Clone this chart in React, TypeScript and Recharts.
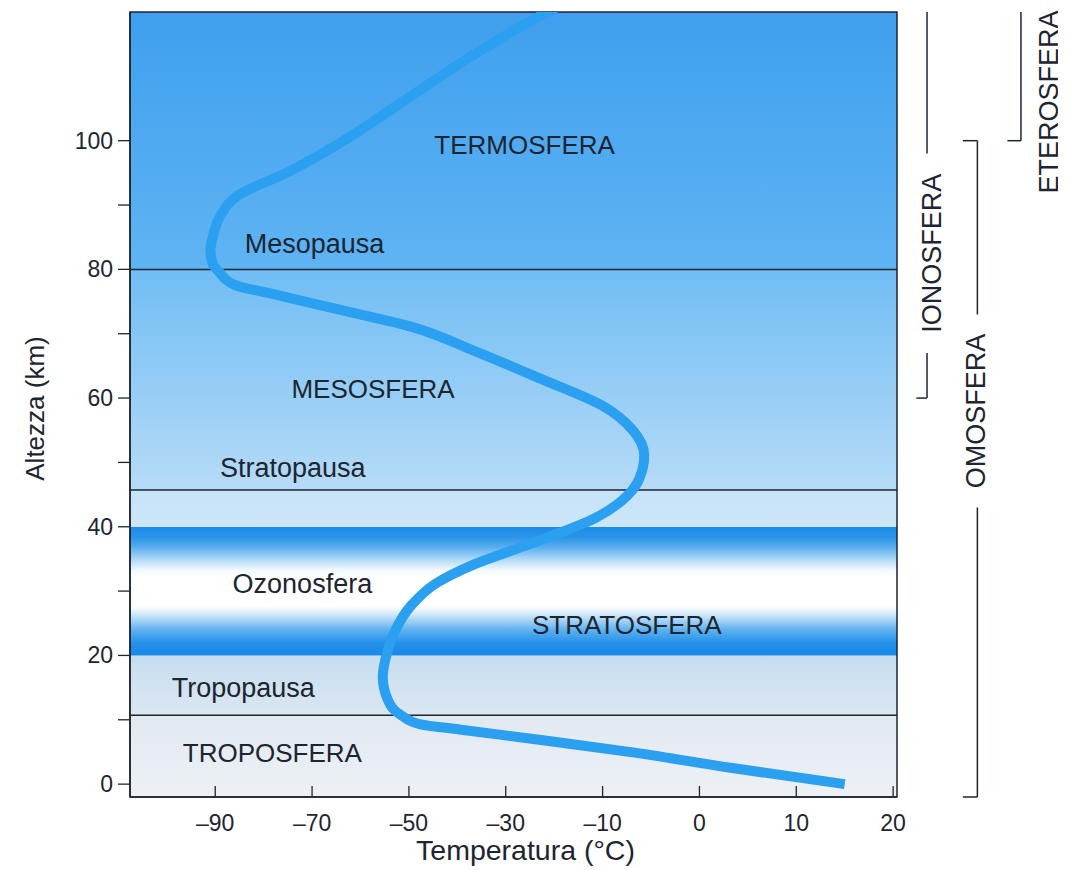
import React from "react";
import {
  ComposedChart,
  Line,
  XAxis,
  YAxis,
  ReferenceArea,
  ReferenceLine,
  ReferenceDot,
} from "recharts";

// temperature profile (altitude km -> °C)
const altitudeKm = [
  0, 2.5, 4.9, 6.9, 8.5, 9.3, 10.7, 13.2, 16.6, 20.2, 23.6, 27.7, 31.2, 34.2, 37.3, 41.4,
  44.9, 47.5, 51.1, 55.2, 58.8, 63.1, 67.3, 71.1, 73.5, 76, 77.6, 79.7, 80.8, 83, 85, 88.4,
  91.6, 94.9, 99.3, 105.9, 112.5, 118.5, 122.3,
];
const temperatureC = [
  15, 3.4, -6.7, -23.1, -39.6, -47.6, -51.6, -54.4, -55.4, -54.6, -53, -49.6, -44.4, -36.4,
  -25.1, -11.4, -7.4, -6.2, -5.7, -7, -10, -23.1, -36.4, -49.6, -63, -77.1, -86, -89.3,
  -90.5, -91, -90.5, -88.9, -85.1, -75.6, -65, -51.6, -38.4, -25.1, -15.3,
];

// axis ticks (the temperature ticks are drawn evenly spaced)
const tempTicks = [-90, -70, -50, -30, -10, 0, 10, 20];
const altTicks = [0, 10, 20, 30, 40, 50, 60, 70, 80, 90, 100];
const altLabelled = [0, 20, 40, 60, 80, 100];
const altDomain = [-2, 120];

// layer boundaries (km)
const boundaryKm = [10.7, 45.7, 80];

// background bands
const bandIds = ["tropo", "lowstrato", "ozone", "highstrato", "meso", "thermo"];
const bandBottomKm = [-2, 10.7, 20, 40, 45.7, 80];
const bandTopKm = [10.7, 20, 40, 45.7, 80, 120];

// region names and where they sit (°C, km)
const regionNames = [
  "TERMOSFERA",
  "Mesopausa",
  "MESOSFERA",
  "Stratopausa",
  "Ozonosfera",
  "STRATOSFERA",
  "Tropopausa",
  "TROPOSFERA",
];
const regionTemp = [-26.1, -69.5, -57.4, -74, -72, -7.5, -84.2, -78.2];
const regionAlt = [99.3, 84.1, 61.5, 49.2, 31.2, 24.8, 15, 4.9];

// shells on the right
const shellNames = ["IONOSFERA", "OMOSFERA", "ETEROSFERA"];
const shellBottomKm = [60, 0, 100];
const shellTopKm = [120, 100, 120];

const profile = altitudeKm.map((alt, i) => ({ alt, temp: temperatureC[i] }));

const FONT = "'Liberation Sans', Arial, sans-serif";
const INK = "#1c2530";

// position of a temperature measured in "tick steps"
function tickIndex(t: number) {
  const k = tempTicks;
  const n = k.length - 1;
  if (t <= k[0]) return (t - k[0]) / (k[1] - k[0]);
  if (t >= k[n]) return n + (t - k[n]) / (k[n] - k[n - 1]);
  let i = 0;
  while (t > k[i + 1]) i++;
  return i + (t - k[i]) / (k[i + 1] - k[i]);
}
function fromTickIndex(v: number) {
  const k = tempTicks;
  const n = k.length - 1;
  if (v <= 0) return k[0] + v * (k[1] - k[0]);
  if (v >= n) return k[n] + (v - n) * (k[n] - k[n - 1]);
  const i = Math.floor(v);
  return k[i] + (v - i) * (k[i + 1] - k[i]);
}

// d3-like scale where every tick interval gets the same width
function tickSpacedScale(domain: number[] = [-107.6, 20.4], range: number[] = [0, 1]): any {
  let d = domain.slice();
  let r = range.slice();
  const span = () => [tickIndex(d[0]), tickIndex(d[d.length - 1])];
  const scale: any = (t: number) => {
    const [i0, i1] = span();
    return r[0] + ((tickIndex(t) - i0) / (i1 - i0)) * (r[r.length - 1] - r[0]);
  };
  scale.domain = (v?: number[]) => {
    if (v === undefined) return d.slice();
    d = v.slice();
    return scale;
  };
  scale.range = (v?: number[]) => {
    if (v === undefined) return r.slice();
    r = v.slice();
    return scale;
  };
  scale.invert = (px: number) => {
    const [i0, i1] = span();
    const f = (px - r[0]) / (r[r.length - 1] - r[0]);
    return fromTickIndex(i0 + f * (i1 - i0));
  };
  scale.copy = () => tickSpacedScale(d, r);
  scale.ticks = () => tempTicks.filter((t) => t >= d[0] && t <= d[d.length - 1]);
  scale.tickFormat = () => (t: number) => String(t);
  return scale;
}

function TempTick(props: any) {
  const { x, y, payload } = props;
  return (
    <g>
      <line x1={x} x2={x} y1={y} y2={y - 11} stroke={INK} strokeWidth={1.3} />
      <text x={x} y={y + 34} textAnchor="middle" fontSize={23} fill={INK} fontFamily={FONT}>
        {String(payload.value).replace("-", "–")}
      </text>
    </g>
  );
}

function AltTick(props: any) {
  const { x, y, payload } = props;
  if (!altLabelled.includes(payload.value)) return null;
  return (
    <text x={x} y={y} dy={8} textAnchor="end" fontSize={23} fill={INK} fontFamily={FONT}>
      {payload.value}
    </text>
  );
}

export default function App() {
  // x columns (°C on the extended scale) for the brackets on the right
  const shellLineX = [23.5, 28.7, 33.2];
  const shellHookX = [22.4, 27.2, 31.8];
  const shellTextX = [24.0, 28.45, 36];
  const shellTextKm = [82.5, 58, 106];
  const shellGapKm = [15.5, 15, 0];

  const bracketSegments: any[] = [];
  shellNames.forEach((name, i) => {
    const x = shellLineX[i];
    // a shell that starts at the ground runs down to the frame
    const lo = shellBottomKm[i] === 0 ? altDomain[0] : shellBottomKm[i];
    const hi = shellTopKm[i];
    const gap = shellGapKm[i];
    if (gap > 0) {
      bracketSegments.push([{ x, y: hi }, { x, y: shellTextKm[i] + gap }]);
      bracketSegments.push([{ x, y: shellTextKm[i] - gap }, { x, y: lo }]);
    } else {
      bracketSegments.push([{ x, y: hi }, { x, y: lo }]);
    }
    // hooks toward the chart
    bracketSegments.push([{ x: shellHookX[i], y: lo }, { x, y: lo }]);
    if (hi < altDomain[1]) bracketSegments.push([{ x: shellHookX[i], y: hi }, { x, y: hi }]);
  });

  return (
    <div style={{ width: 1058, height: 862 }}>
      <style>{"body { margin: 8px 8px 0 8px; }"}</style>
      <ComposedChart
        width={1058}
        height={862}
        layout="vertical"
        data={profile}
        margin={{ top: 4, right: 169, bottom: 0, left: 0 }}
      >
        <defs>
          <linearGradient id="thermo" x1="0" y1="0" x2="0" y2="1">
            <stop offset="0" stopColor="#3f9fee" />
            <stop offset="1" stopColor="#5fb4f3" />
          </linearGradient>
          <linearGradient id="meso" x1="0" y1="0" x2="0" y2="1">
            <stop offset="0" stopColor="#70bdf4" />
            <stop offset="1" stopColor="#b6dbf7" />
          </linearGradient>
          <linearGradient id="highstrato" x1="0" y1="0" x2="0" y2="1">
            <stop offset="0" stopColor="#c6e3f8" />
            <stop offset="1" stopColor="#cde6f8" />
          </linearGradient>
          <linearGradient id="ozone" x1="0" y1="0" x2="0" y2="1">
            <stop offset="0" stopColor="#1a8be8" />
            <stop offset="0.08" stopColor="#2a94ea" />
            <stop offset="0.16" stopColor="#5aaeef" />
            <stop offset="0.26" stopColor="#b5dcf7" />
            <stop offset="0.34" stopColor="#f4fafe" />
            <stop offset="0.4" stopColor="#ffffff" />
            <stop offset="0.62" stopColor="#ffffff" />
            <stop offset="0.7" stopColor="#c0e0f8" />
            <stop offset="0.8" stopColor="#5fb1f0" />
            <stop offset="0.9" stopColor="#2592ea" />
            <stop offset="1" stopColor="#1887e6" />
          </linearGradient>
          <linearGradient id="lowstrato" x1="0" y1="0" x2="0" y2="1">
            <stop offset="0" stopColor="#c6ddf0" />
            <stop offset="1" stopColor="#dbe7f1" />
          </linearGradient>
          <linearGradient id="tropo" x1="0" y1="0" x2="0" y2="1">
            <stop offset="0" stopColor="#e1e9f1" />
            <stop offset="1" stopColor="#edf1f5" />
          </linearGradient>
        </defs>

        <XAxis
          type="number"
          dataKey="temp"
          scale={tickSpacedScale()}
          domain={[-107.6, 20.4]}
          allowDataOverflow
          ticks={tempTicks}
          interval={0}
          tickSize={0}
          tickMargin={0}
          tick={<TempTick />}
          axisLine={{ stroke: INK, strokeWidth: 1.5 }}
          height={73}
          label={(p: any) => {
            const vb = p.viewBox;
            return (
              <text
                x={vb.x + vb.width / 2 + 12}
                y={vb.y + 63}
                textAnchor="middle"
                fontSize={28.5}
                fill={INK}
                fontFamily={FONT}
              >
                Temperatura (°C)
              </text>
            );
          }}
        />
        <YAxis
          type="number"
          dataKey="alt"
          domain={altDomain}
          reversed
          allowDataOverflow
          ticks={altTicks}
          interval={0}
          width={122}
          tickSize={12}
          tickMargin={5}
          tick={<AltTick />}
          tickLine={{ stroke: INK, strokeWidth: 1.3 }}
          axisLine={{ stroke: INK, strokeWidth: 1.5 }}
          label={(p: any) => {
            const vb = p.viewBox;
            const cx = vb.x + 29;
            const cy = vb.y + vb.height / 2 + 4;
            return (
              <text
                x={cx}
                y={cy}
                transform={`rotate(-90 ${cx} ${cy})`}
                textAnchor="middle"
                dominantBaseline="middle"
                fontSize={26}
                fill={INK}
                fontFamily={FONT}
              >
                Altezza (km)
              </text>
            );
          }}
        />

        {bandIds.map((id, i) => (
          <ReferenceArea
            key={id}
            y1={bandBottomKm[i]}
            y2={bandTopKm[i]}
            fill={`url(#${id})`}
            fillOpacity={1}
            stroke="none"
          />
        ))}

        {boundaryKm.map((km) => (
          <ReferenceLine key={km} y={km} stroke={INK} strokeWidth={1.5} />
        ))}

        <Line
          dataKey="temp"
          type="monotone"
          stroke="#2b9ff0"
          strokeWidth={10}
          dot={false}
          activeDot={false}
          isAnimationActive={false}
        />

        {regionNames.map((name, i) => (
          <ReferenceDot
            key={name}
            x={regionTemp[i]}
            y={regionAlt[i]}
            r={0}
            fill="none"
            stroke="none"
            label={{
              value: name,
              position: "center",
              fontSize: name === name.toUpperCase() ? 26 : 27,
              fill: INK,
              fontFamily: FONT,
            }}
          />
        ))}

        <ReferenceArea
          y1={altDomain[0]}
          y2={altDomain[1]}
          fill="none"
          stroke={INK}
          strokeWidth={1.5}
        />

        {bracketSegments.map((seg, i) => (
          <ReferenceLine
            key={`b${i}`}
            segment={seg}
            ifOverflow="visible"
            stroke={INK}
            strokeWidth={1.5}
          />
        ))}

        {shellNames.map((name, i) => (
          <ReferenceDot
            key={name}
            x={shellTextX[i]}
            y={shellTextKm[i]}
            r={0}
            fill="none"
            stroke="none"
            ifOverflow="visible"
            label={{
              value: name,
              position: "center",
              angle: -90,
              fontSize: 27,
              fill: INK,
              fontFamily: FONT,
            }}
          />
        ))}
      </ComposedChart>
    </div>
  );
}
